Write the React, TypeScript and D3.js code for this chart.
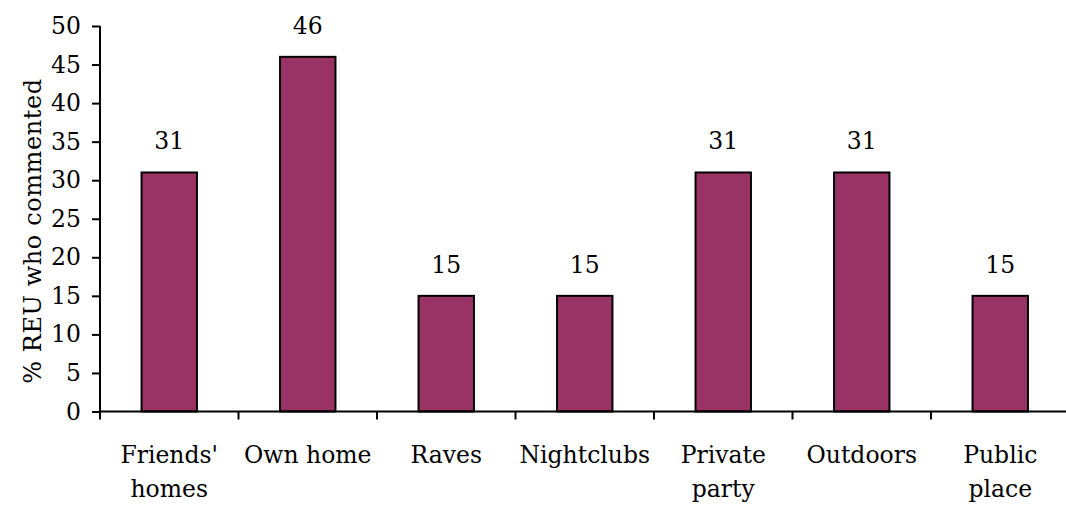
import React from "react";
import * as d3 from "d3";

const categories = [
  ["Friends'", "homes"],
  ["Own home"],
  ["Raves"],
  ["Nightclubs"],
  ["Private", "party"],
  ["Outdoors"],
  ["Public", "place"],
];
const values = [31, 46, 15, 15, 31, 31, 15];
const yTicks = [0, 5, 10, 15, 20, 25, 30, 35, 40, 45, 50];

const W = 1066;
const H = 507;
const margin = { left: 100, top: 26, right: -3.5, bottom: 95.5 };
const FONT = "DejaVu Serif, Liberation Serif, serif";
const FS = 23.5;

const App = () => {
  const svgRef = React.useRef(null);

  React.useEffect(() => {
    const width = W - margin.left - margin.right;
    const height = H - margin.top - margin.bottom;
    const keys = categories.map((c) => c.join(" "));

    const x = d3.scaleBand().domain(keys).range([0, width]);
    const y = d3.scaleLinear().domain([0, 50]).range([height, 0]);

    const svgEl = d3.select(svgRef.current);
    svgEl.selectAll("*").remove();
    const svg = svgEl
      .append("g")
      .attr("transform", `translate(${margin.left},${margin.top})`);

    // bars
    const barW = x.bandwidth() * 0.4;
    svg.append("g")
      .selectAll("rect")
      .data(values)
      .enter()
      .append("rect")
      .attr("x", (d, i) => x(keys[i]) + (x.bandwidth() - barW) / 2)
      .attr("y", (d) => y(d))
      .attr("width", barW)
      .attr("height", (d) => height - y(d))
      .attr("fill", "#993366")
      .attr("stroke", "#000")
      .attr("stroke-width", 2);

    // value labels
    svg.append("g")
      .selectAll("text")
      .data(values)
      .enter()
      .append("text")
      .attr("x", (d, i) => x(keys[i]) + x.bandwidth() / 2)
      .attr("y", (d) => y(d) - 23)
      .attr("text-anchor", "middle")
      .style("font-family", FONT)
      .attr("font-size", FS)
      .attr("fill", "#000")
      .text((d) => d);

    // y axis
    const yAxisGroup = svg.append("g")
      .call(d3.axisLeft(y).tickValues(yTicks).tickSize(8).tickPadding(11));
    yAxisGroup.attr("font-family", null);
    yAxisGroup.select(".domain").attr("stroke", "#000").attr("stroke-width", 2)
      .attr("d", `M0,${height}V0`);
    yAxisGroup.selectAll("line").attr("stroke", "#000").attr("stroke-width", 2);
    yAxisGroup.selectAll("text")
      .style("font-family", FONT)
      .attr("font-size", FS)
      .attr("fill", "#000");

    // x axis with ticks at band boundaries
    const xg = svg.append("g").attr("transform", `translate(0,${height})`);
    xg.append("line")
      .attr("x1", 0).attr("x2", width)
      .attr("stroke", "#000").attr("stroke-width", 2);
    xg.selectAll(".tick")
      .data(keys)
      .enter()
      .append("line")
      .attr("x1", (d) => x(d)).attr("x2", (d) => x(d))
      .attr("y1", 0).attr("y2", 8)
      .attr("stroke", "#000").attr("stroke-width", 2);
    const lbl = xg.selectAll(".lbl")
      .data(categories)
      .enter()
      .append("text")
      .attr("x", (d, i) => x(keys[i]) + x.bandwidth() / 2)
      .attr("y", 51)
      .attr("text-anchor", "middle")
      .style("font-family", FONT)
      .attr("font-size", FS)
      .attr("fill", "#000");
    lbl.selectAll("tspan")
      .data((d) => d)
      .enter()
      .append("tspan")
      .attr("x", function () { return d3.select(this.parentNode).attr("x"); })
      .attr("dy", (d, i) => (i === 0 ? 0 : 34))
      .text((d) => d);

    // y axis title
    svg.append("text")
      .attr("transform", `translate(${-margin.left + 41},${205}) rotate(-90)`)
      .attr("text-anchor", "middle")
      .style("font-family", FONT)
      .style("letter-spacing", "0.6px")
      .attr("font-size", 24)
      .attr("fill", "#000")
      .text("% REU who commented");
  }, []);

  return (
    <svg ref={svgRef} width={W} height={H}
      style={{ position: "absolute", left: 0, top: 0 }} />
  );
};

export default App;
